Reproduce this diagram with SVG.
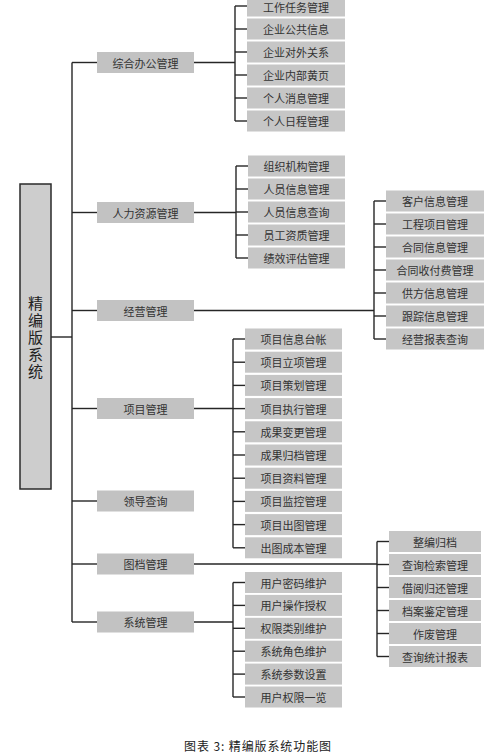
<svg xmlns="http://www.w3.org/2000/svg" width="488" height="754" viewBox="0 0 488 754">
<style>
.l1 rect{fill:#c2c2c2;}
.ch rect{fill:#c6c6c6;}
text{font-family:"Noto Sans CJK SC","Noto Sans",sans-serif;fill:#333;font-size:11px;text-anchor:middle;dominant-baseline:central;}
.root rect{fill:#cdcdcd;stroke:#2a2a2a;stroke-width:1.5;}
.root text{font-size:15px;fill:#222;writing-mode:vertical-rl;letter-spacing:2px;}
#connectors line{stroke:#262626;stroke-width:1.4;fill:none;}
.cap{font-size:12px;fill:#222;letter-spacing:0.9px;}
</style>
<rect width="488" height="754" fill="#fff"/>
<g id="connectors">
<line x1="51" y1="337" x2="72" y2="337"/>
<line x1="72" y1="62.5" x2="72" y2="622"/>
<line x1="72" y1="62.5" x2="97" y2="62.5"/>
<line x1="72" y1="212.5" x2="97" y2="212.5"/>
<line x1="72" y1="310.5" x2="97" y2="310.5"/>
<line x1="72" y1="408.5" x2="97" y2="408.5"/>
<line x1="72" y1="501" x2="97" y2="501"/>
<line x1="72" y1="564" x2="97" y2="564"/>
<line x1="72" y1="622" x2="97" y2="622"/>
<line x1="194" y1="62.5" x2="235" y2="62.5"/>
<line x1="235" y1="6" x2="235" y2="121"/>
<line x1="235" y1="6" x2="247" y2="6"/>
<line x1="235" y1="29" x2="247" y2="29"/>
<line x1="235" y1="52" x2="247" y2="52"/>
<line x1="235" y1="75" x2="247" y2="75"/>
<line x1="235" y1="98" x2="247" y2="98"/>
<line x1="235" y1="121" x2="247" y2="121"/>
<line x1="194" y1="212.5" x2="236" y2="212.5"/>
<line x1="236" y1="166" x2="236" y2="258"/>
<line x1="236" y1="166" x2="248" y2="166"/>
<line x1="236" y1="189" x2="248" y2="189"/>
<line x1="236" y1="212" x2="248" y2="212"/>
<line x1="236" y1="235" x2="248" y2="235"/>
<line x1="236" y1="258" x2="248" y2="258"/>
<line x1="194" y1="310.5" x2="374" y2="310.5"/>
<line x1="374" y1="201" x2="374" y2="339"/>
<line x1="374" y1="201" x2="386" y2="201"/>
<line x1="374" y1="224" x2="386" y2="224"/>
<line x1="374" y1="247" x2="386" y2="247"/>
<line x1="374" y1="270" x2="386" y2="270"/>
<line x1="374" y1="293" x2="386" y2="293"/>
<line x1="374" y1="316" x2="386" y2="316"/>
<line x1="374" y1="339" x2="386" y2="339"/>
<line x1="194" y1="408.5" x2="233" y2="408.5"/>
<line x1="233" y1="339" x2="233" y2="547.8"/>
<line x1="233" y1="339" x2="245" y2="339"/>
<line x1="233" y1="362.2" x2="245" y2="362.2"/>
<line x1="233" y1="385.4" x2="245" y2="385.4"/>
<line x1="233" y1="408.6" x2="245" y2="408.6"/>
<line x1="233" y1="431.8" x2="245" y2="431.8"/>
<line x1="233" y1="455" x2="245" y2="455"/>
<line x1="233" y1="478.2" x2="245" y2="478.2"/>
<line x1="233" y1="501.4" x2="245" y2="501.4"/>
<line x1="233" y1="524.6" x2="245" y2="524.6"/>
<line x1="233" y1="547.8" x2="245" y2="547.8"/>
<line x1="194" y1="564" x2="377" y2="564"/>
<line x1="377" y1="541.5" x2="377" y2="656.5"/>
<line x1="377" y1="541.5" x2="389" y2="541.5"/>
<line x1="377" y1="564.5" x2="389" y2="564.5"/>
<line x1="377" y1="587.5" x2="389" y2="587.5"/>
<line x1="377" y1="610.5" x2="389" y2="610.5"/>
<line x1="377" y1="633.5" x2="389" y2="633.5"/>
<line x1="377" y1="656.5" x2="389" y2="656.5"/>
<line x1="194" y1="622" x2="233" y2="622"/>
<line x1="233" y1="582.5" x2="233" y2="697"/>
<line x1="233" y1="582.5" x2="245" y2="582.5"/>
<line x1="233" y1="605.4" x2="245" y2="605.4"/>
<line x1="233" y1="628.3" x2="245" y2="628.3"/>
<line x1="233" y1="651.2" x2="245" y2="651.2"/>
<line x1="233" y1="674.1" x2="245" y2="674.1"/>
<line x1="233" y1="697" x2="245" y2="697"/>
</g>
<g id="root" class="root">
<rect x="20" y="184" width="31" height="305"/>
<text x="35.5" y="338">精编版系统</text>
</g>
<g id="n-zhbg" class="l1"><rect x="97" y="52" width="97" height="21"/><text x="145.5" y="62.5">综合办公管理</text></g>
<g id="n-rlzy" class="l1"><rect x="97" y="202" width="97" height="21"/><text x="145.5" y="212.5">人力资源管理</text></g>
<g id="n-jygl" class="l1"><rect x="97" y="300" width="97" height="21"/><text x="145.5" y="310.5">经营管理</text></g>
<g id="n-xmgl" class="l1"><rect x="97" y="398" width="97" height="21"/><text x="145.5" y="408.5">项目管理</text></g>
<g id="n-ldcx" class="l1"><rect x="97" y="490.5" width="97" height="21"/><text x="145.5" y="501">领导查询</text></g>
<g id="n-tdgl" class="l1"><rect x="97" y="553.5" width="97" height="21"/><text x="145.5" y="564">图档管理</text></g>
<g id="n-xtgl" class="l1"><rect x="97" y="611.5" width="97" height="21"/><text x="145.5" y="622">系统管理</text></g>

<g id="a1" class="ch"><rect x="247" y="-4.5" width="98" height="21"/><text x="296" y="7">工作任务管理</text></g>
<g id="a2" class="ch"><rect x="247" y="18.5" width="98" height="21"/><text x="296" y="29">企业公共信息</text></g>
<g id="a3" class="ch"><rect x="247" y="41.5" width="98" height="21"/><text x="296" y="52">企业对外关系</text></g>
<g id="a4" class="ch"><rect x="247" y="64.5" width="98" height="21"/><text x="296" y="75">企业内部黄页</text></g>
<g id="a5" class="ch"><rect x="247" y="87.5" width="98" height="21"/><text x="296" y="98">个人消息管理</text></g>
<g id="a6" class="ch"><rect x="247" y="110.5" width="98" height="21"/><text x="296" y="121">个人日程管理</text></g>

<g id="b1" class="ch"><rect x="248" y="155.5" width="97" height="21"/><text x="296.5" y="166">组织机构管理</text></g>
<g id="b2" class="ch"><rect x="248" y="178.5" width="97" height="21"/><text x="296.5" y="189">人员信息管理</text></g>
<g id="b3" class="ch"><rect x="248" y="201.5" width="97" height="21"/><text x="296.5" y="212">人员信息查询</text></g>
<g id="b4" class="ch"><rect x="248" y="224.5" width="97" height="21"/><text x="296.5" y="235">员工资质管理</text></g>
<g id="b5" class="ch"><rect x="248" y="247.5" width="97" height="21"/><text x="296.5" y="258">绩效评估管理</text></g>

<g id="c1" class="ch"><rect x="386" y="190.5" width="98" height="21"/><text x="435" y="201">客户信息管理</text></g>
<g id="c2" class="ch"><rect x="386" y="213.5" width="98" height="21"/><text x="435" y="224">工程项目管理</text></g>
<g id="c3" class="ch"><rect x="386" y="236.5" width="98" height="21"/><text x="435" y="247">合同信息管理</text></g>
<g id="c4" class="ch"><rect x="386" y="259.5" width="98" height="21"/><text x="435" y="270">合同收付费管理</text></g>
<g id="c5" class="ch"><rect x="386" y="282.5" width="98" height="21"/><text x="435" y="293">供方信息管理</text></g>
<g id="c6" class="ch"><rect x="386" y="305.5" width="98" height="21"/><text x="435" y="316">跟踪信息管理</text></g>
<g id="c7" class="ch"><rect x="386" y="328.5" width="98" height="21"/><text x="435" y="339">经营报表查询</text></g>

<g id="d1" class="ch"><rect x="245" y="328.5" width="97" height="21"/><text x="293.5" y="339">项目信息台帐</text></g>
<g id="d2" class="ch"><rect x="245" y="351.7" width="97" height="21"/><text x="293.5" y="362.2">项目立项管理</text></g>
<g id="d3" class="ch"><rect x="245" y="374.9" width="97" height="21"/><text x="293.5" y="385.4">项目策划管理</text></g>
<g id="d4" class="ch"><rect x="245" y="398.1" width="97" height="21"/><text x="293.5" y="408.6">项目执行管理</text></g>
<g id="d5" class="ch"><rect x="245" y="421.3" width="97" height="21"/><text x="293.5" y="431.8">成果变更管理</text></g>
<g id="d6" class="ch"><rect x="245" y="444.5" width="97" height="21"/><text x="293.5" y="455">成果归档管理</text></g>
<g id="d7" class="ch"><rect x="245" y="467.7" width="97" height="21"/><text x="293.5" y="478.2">项目资料管理</text></g>
<g id="d8" class="ch"><rect x="245" y="490.9" width="97" height="21"/><text x="293.5" y="501.4">项目监控管理</text></g>
<g id="d9" class="ch"><rect x="245" y="514.1" width="97" height="21"/><text x="293.5" y="524.6">项目出图管理</text></g>
<g id="d10" class="ch"><rect x="245" y="537.3" width="97" height="21"/><text x="293.5" y="547.8">出图成本管理</text></g>

<g id="e1" class="ch"><rect x="389" y="531" width="92" height="21"/><text x="435" y="541.5">整编归档</text></g>
<g id="e2" class="ch"><rect x="389" y="554" width="92" height="21"/><text x="435" y="564.5">查询检索管理</text></g>
<g id="e3" class="ch"><rect x="389" y="577" width="92" height="21"/><text x="435" y="587.5">借阅归还管理</text></g>
<g id="e4" class="ch"><rect x="389" y="600" width="92" height="21"/><text x="435" y="610.5">档案鉴定管理</text></g>
<g id="e5" class="ch"><rect x="389" y="623" width="92" height="21"/><text x="435" y="633.5">作废管理</text></g>
<g id="e6" class="ch"><rect x="389" y="646" width="92" height="21"/><text x="435" y="656.5">查询统计报表</text></g>

<g id="f1" class="ch"><rect x="245" y="572" width="97" height="21"/><text x="293.5" y="582.5">用户密码维护</text></g>
<g id="f2" class="ch"><rect x="245" y="594.9" width="97" height="21"/><text x="293.5" y="605.4">用户操作授权</text></g>
<g id="f3" class="ch"><rect x="245" y="617.8" width="97" height="21"/><text x="293.5" y="628.3">权限类别维护</text></g>
<g id="f4" class="ch"><rect x="245" y="640.7" width="97" height="21"/><text x="293.5" y="651.2">系统角色维护</text></g>
<g id="f5" class="ch"><rect x="245" y="663.6" width="97" height="21"/><text x="293.5" y="674.1">系统参数设置</text></g>
<g id="f6" class="ch"><rect x="245" y="686.5" width="97" height="21"/><text x="293.5" y="697">用户权限一览</text></g>

<text class="cap" x="258" y="745">图表 3:  精编版系统功能图</text>
</svg>
